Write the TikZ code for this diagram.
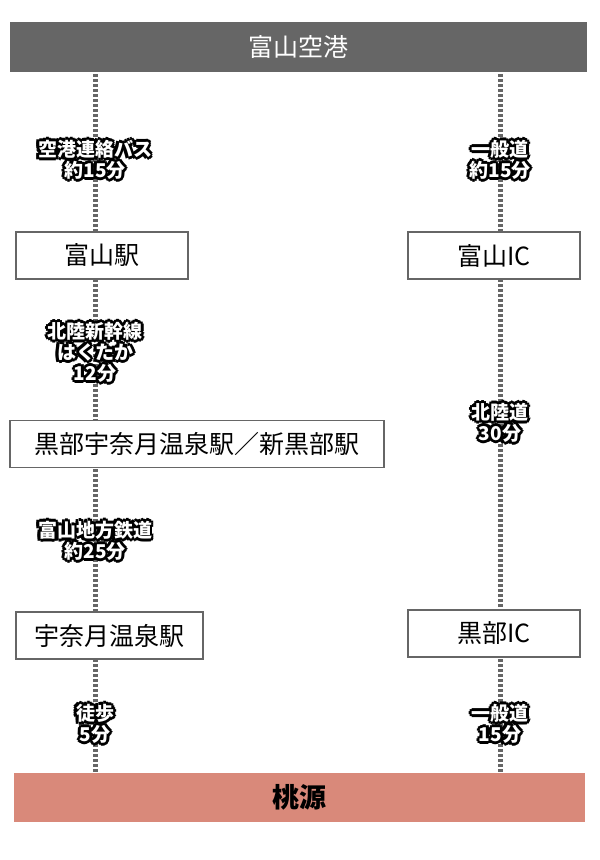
\documentclass[tikz,border=0pt]{standalone}
\usepackage{fontspec}
\setmainfont{Noto Sans CJK JP}
\usetikzlibrary{positioning}
\definecolor{bargray}{RGB}{102,102,102}
\definecolor{peach}{RGB}{217,137,122}
\tikzset{
  stationbox/.style={draw=bargray,line width=1.5pt,fill=white,minimum height=47pt,font=\fontsize{25}{28}\selectfont},
  routeline/.style={draw=bargray,line width=5pt},
  routestripe/.style={draw=white,line width=5pt,dash pattern=on 2pt off 3pt},
  routetext/.style={align=center,inner sep=0pt,font=\bfseries\fontsize{19}{21}\selectfont}
}
% outlined route label
\newcommand{\routelabel}[3]{%
  \foreach \ang in {0,45,...,315}
    \node[routetext,text=black] at ([shift={(\ang:3)}]#2) {#3};
  \node[routetext,text=white] (#1) at (#2) {#3};
}
\begin{document}
\begin{tikzpicture}[x=1pt,y=-1pt]
\useasboundingbox (0,0) rectangle (600,860);
% lines
\coordinate (ltop) at (95,72); \coordinate (lbot) at (95,773);
\coordinate (rtop) at (500,72); \coordinate (rbot) at (500,773);
\draw[routeline] (ltop) -- (lbot);
\draw[routestripe] (ltop) -- (lbot);
\draw[routeline] (rtop) -- (rbot);
\draw[routestripe] (rtop) -- (rbot);
% bars
\node[fill=bargray,minimum width=577pt,minimum height=50pt,text=white,font=\fontsize{25}{28}\selectfont] (airport) at (298.5,47) {富山空港};
\node[fill=peach,minimum width=571pt,minimum height=49pt,font=\bfseries\fontsize{27}{30}\selectfont] (togen) at (299.5,797.5) {桃源};
% stations
\node[stationbox,minimum width=172pt] (toyamaSt) at (102,255.5) {富山駅};
\node[stationbox,minimum width=172pt] (toyamaIC) at (494,255.5) {富山IC};
\node[stationbox,minimum width=374pt] (kurobeSt) at (197,444) {黒部宇奈月温泉駅／新黒部駅};
\node[stationbox,minimum width=187pt] (unazukiSt) at (109.5,635.5) {宇奈月温泉駅};
\node[stationbox,minimum width=172pt] (kurobeIC) at (494,633.5) {黒部IC};
% route labels
\routelabel{busLbl}{95,160}{空港連絡バス\\約15分}
\routelabel{roadLblA}{500,160}{一般道\\約15分}
\routelabel{shinkanLbl}{95,352}{北陸新幹線\\はくたか\\12分}
\routelabel{hwyLbl}{500,423}{北陸道\\30分}
\routelabel{railLbl}{95,541}{富山地方鉄道\\約25分}
\routelabel{walkLbl}{95,724}{徒歩\\5分}
\routelabel{roadLblB}{500,724}{一般道\\15分}
\end{tikzpicture}
\end{document}
